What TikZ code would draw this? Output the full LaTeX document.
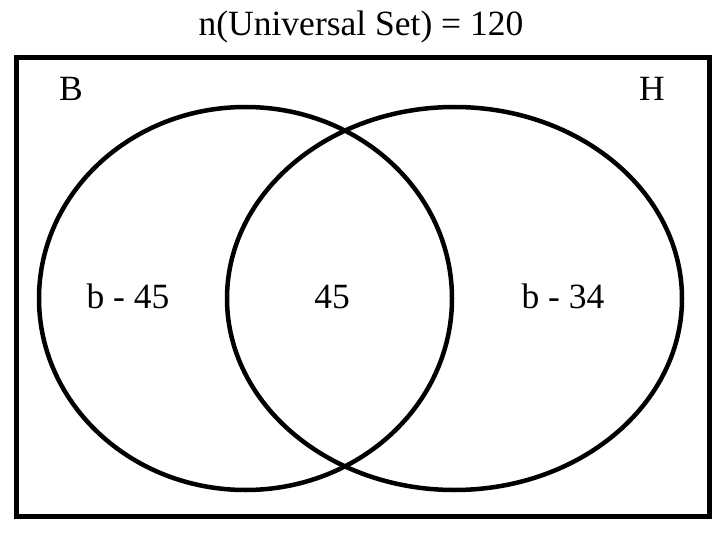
\documentclass[tikz,border=0pt]{standalone}
\usepackage{fontspec}
\setmainfont{Liberation Serif}
\usepackage{tikz}
\usetikzlibrary{positioning}
\tikzset{
  lbl/.style={anchor=base,inner sep=0pt,font=\fontsize{35.5}{42}\selectfont},
  setline/.style={line width=4.5pt,black},
}

\begin{document}
\begin{tikzpicture}[x=1pt,y=-1pt]
      \useasboundingbox (0,0) rectangle (726,535);
      % universal set
      \draw[line width=5pt] (16.5,57.5) rectangle (709,516.5);
      \node[lbl] (title) at (361,36) {n(Universal Set) = 120};
      % the two sets
      \draw[setline] (245.5,298.5) ellipse [x radius=206.5,y radius=191.5];
      \draw[setline] (454.5,298.5) ellipse [x radius=227.5,y radius=191.5];
      \node[lbl] (setB) at (71,100) {B};
      \node[lbl] (setH) at (652,100) {H};
      % regions
      \node[lbl] (onlyB) at (128,308) {b - 45};
      \node[lbl] (both) at (332,308) {45};
      \node[lbl] (onlyH) at (563,308) {b - 34};
    \end{tikzpicture}
\end{document}
